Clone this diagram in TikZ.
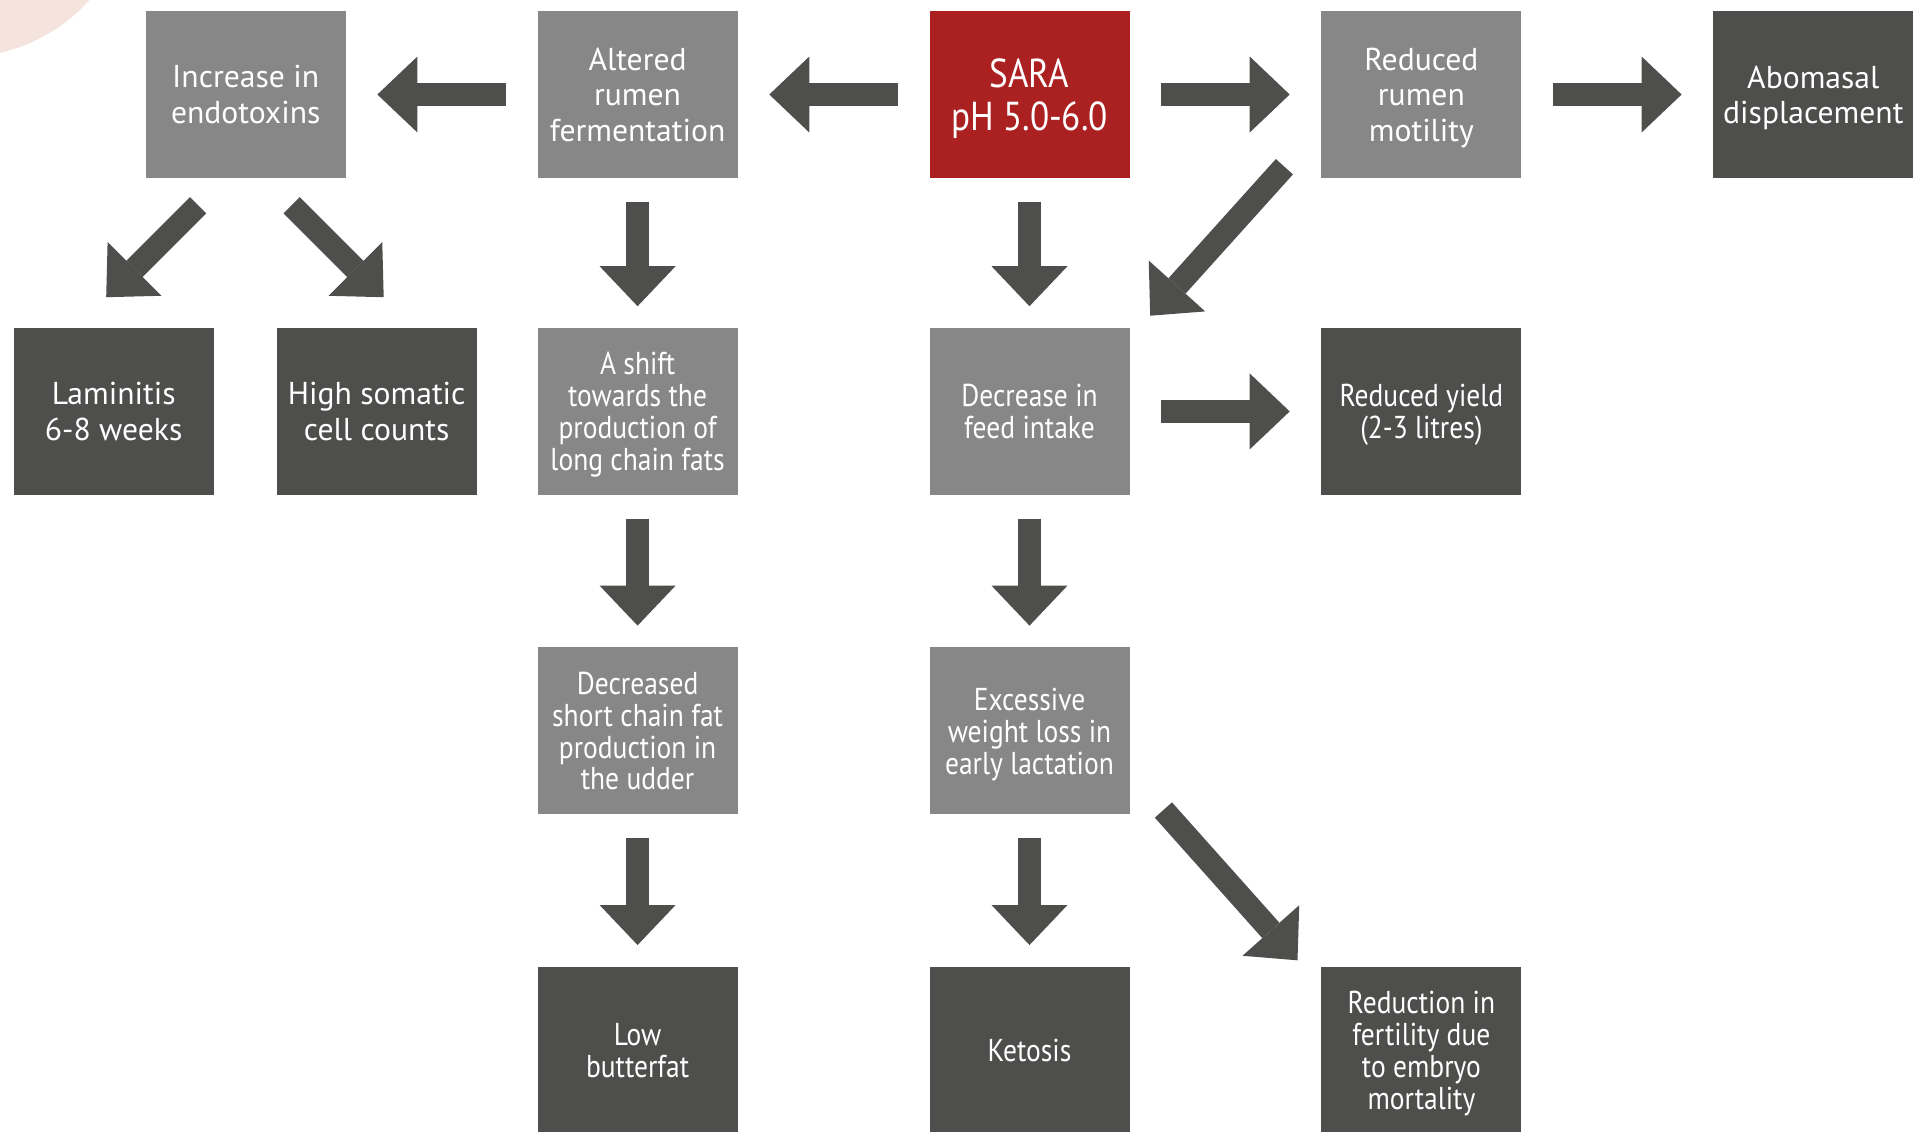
\documentclass[tikz,border=0pt]{standalone}
\usepackage{fontspec}
\setmainfont{PT Sans}
\newfontfamily\narrowfont{PT Sans}[FakeStretch=0.87]
\usepackage{tikz}
\usetikzlibrary{arrows.meta,positioning}
\definecolor{boxmid}{HTML}{878787}
\definecolor{boxdark}{HTML}{4E4E4C}
\definecolor{sarared}{HTML}{AB2020}
\definecolor{blush}{HTML}{F5E3DE}

\begin{document}
\begin{tikzpicture}[
        node distance=1.51cm and 1.905cm,
        box/.style={rectangle, minimum width=2cm, minimum height=1.67cm, inner sep=0pt, align=center, text=white, text depth=0pt, font=\fontsize{9}{10.1}\selectfont},
        narrow/.style={font=\narrowfont\fontsize{9}{9.1}\selectfont},
        midbox/.style={box, fill=boxmid},
        darkbox/.style={box, fill=boxdark},
        redbox/.style={box, fill=sarared, font=\narrowfont\fontsize{11.5}{12.4}\selectfont},
        arrow/.style={draw=boxdark, line width=0.23cm, -{Triangle[length=0.4cm,width=0.76cm,line width=0pt]}, shorten <=0.31cm, shorten >=0.31cm},
        varrow/.style={arrow, shorten <=0.23cm, shorten >=0.21cm},
        darrow/.style={arrow, shorten <=0pt, shorten >=0pt}
    ]
        \useasboundingbox (0,0) rectangle (19.16,-11.31);
        \fill[blush] (-0.38,1.14) circle (1.71);

        % Nodes
        \node[redbox] (sara) at (10.295,-0.945) {SARA\\pH 5.0-6.0};
        \node[midbox, left=of sara] (ferment) {Altered\\rumen\\fermentation};
        \node[midbox, left=of ferment] (endotox) {Increase in\\endotoxins};
        \node[midbox, right=of sara] (motility) {Reduced\\rumen\\motility};
        \node[darkbox, right=of motility] (abomasal) {Abomasal\\displacement};
        \node[darkbox, below=1.485cm of endotox, xshift=-1.32cm] (laminitis) {Laminitis\\6-8 weeks};
        \node[darkbox, below=1.485cm of endotox, xshift=1.31cm] (scc) {High somatic\\cell counts};
        \node[midbox, narrow, below=1.485cm of ferment] (longfat) {A shift\\towards the\\production of\\long chain fats};
        \node[midbox, narrow, below=1.485cm of sara] (intake) {Decrease in\\feed intake};
        \node[darkbox, narrow, right=of intake] (yield) {Reduced yield\\(2-3 litres)};
        \node[midbox, narrow, below=of longfat] (shortfat) {Decreased\\short chain fat\\production in\\the udder};
        \node[midbox, narrow, below=of intake] (weightloss) {Excessive\\weight loss in\\early lactation};
        \node[darkbox, narrow, below=of shortfat] (butterfat) {Low\\butterfat};
        \node[darkbox, narrow, below=of weightloss] (ketosis) {Ketosis};
        \node[darkbox, narrow, right=of ketosis] (fertility) {Reduction in\\fertility due\\to embryo\\mortality};

        % Arrows
        \draw[arrow] (sara) -- (ferment);
        \draw[arrow] (ferment) -- (endotox);
        \draw[arrow] (sara) -- (motility);
        \draw[arrow] (motility) -- (abomasal);
        \draw[arrow] (intake) -- (yield);
        \draw[varrow] (sara) -- (intake);
        \draw[varrow] (ferment) -- (longfat);
        \draw[varrow] (longfat) -- (shortfat);
        \draw[varrow] (shortfat) -- (butterfat);
        \draw[varrow] (intake) -- (weightloss);
        \draw[varrow] (weightloss) -- (ketosis);
        \draw[darrow] ([shift={(-0.475,-0.265)}]endotox.south) -- ([shift={(-0.075,0.30)}]laminitis.north);
        \draw[darrow] ([shift={(0.46,-0.265)}]endotox.south) -- ([shift={(0.07,0.30)}]scc.north);
        \draw[darrow] ([shift={(-0.363,0.12)}]motility.south west) -- ([shift={(0.2,0.115)}]intake.north east);
        \draw[darrow] ([shift={(0.332,0.05)}]weightloss.south east) -- ([shift={(-0.232,0.057)}]fertility.north west);

    \end{tikzpicture}
\end{document}
